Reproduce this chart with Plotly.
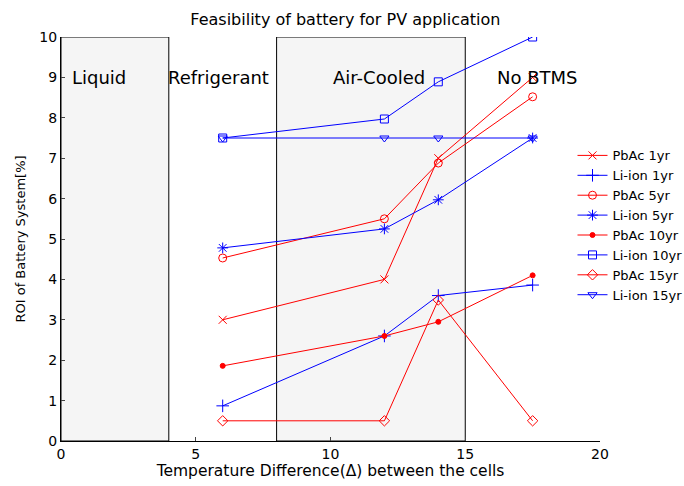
import plotly.graph_objects as go

# Temperature difference between cells (x) for each measured point
delta_t = [6, 12, 14, 17.5]

# ROI of battery system [%] per battery type and horizon
series_names = ["PbAc 1yr", "Li-ion 1yr", "PbAc 5yr", "Li-ion 5yr",
                "PbAc 10yr", "Li-ion 10yr", "PbAc 15yr", "Li-ion 15yr"]
pbac_1yr = [3.0, 4.0, 7.0, 9.0]
liion_1yr = [0.87, 2.6, 3.6, 3.86]
pbac_5yr = [4.53, 5.5, 6.88, 8.52]
liion_5yr = [4.78, 5.25, 5.97, 7.5]
pbac_10yr = [1.86, 2.6, 2.95, 4.1]
liion_10yr = [7.5, 7.97, 8.89, 10.0]
pbac_15yr = [0.5, 0.5, 3.49, 0.5]
liion_15yr = [7.5, 7.5, 7.5, 7.5]

# Cooling regimes along the x axis
region_labels = ["Liquid", "Refrigerant", "Air-Cooled", "No BTMS"]
region_label_x = [1.41, 5.86, 11.8, 17.68]
shaded_regions = [(0, 4), (8, 15)]

values = [pbac_1yr, liion_1yr, pbac_5yr, liion_5yr,
          pbac_10yr, liion_10yr, pbac_15yr, liion_15yr]
colors = ["#ff0000", "#0000ff"] * 4
symbols = ["x-thin-open", "cross-thin-open", "circle-open", "asterisk-open",
           "circle", "square-open", "diamond-open", "triangle-down-open"]
sizes = [8, 9, 8, 9, 5, 8, 8, 8]

FONT = "DejaVu Sans, Arial, sans-serif"

fig = go.Figure()

for x0, x1 in shaded_regions:
    fig.add_shape(type="rect", x0=x0, x1=x1, y0=0, y1=10, xref="x", yref="y",
                  fillcolor="#f5f5f5", line=dict(color="black", width=1),
                  layer="below")

for name, vals, col, sym, sz in zip(series_names, values, colors, symbols, sizes):
    fig.add_trace(go.Scatter(
        x=delta_t, y=vals, name=name, mode="lines+markers",
        line=dict(color=col, width=1),
        marker=dict(symbol=sym, size=sz, color=col,
                    line=dict(color=col, width=1)),
    ))

for lab, lx in zip(region_labels, region_label_x):
    fig.add_annotation(x=lx, y=9.0, xref="x", yref="y", text=lab,
                       showarrow=False, font=dict(size=18, color="black"))

fig.update_layout(
    width=684, height=486,
    margin=dict(l=61, r=84, t=37, b=45, autoexpand=False),
    paper_bgcolor="white", plot_bgcolor="white",
    font=dict(family=FONT, color="black"),
    title=dict(text="Feasibility of battery for PV application",
               x=0.505, xanchor="center", y=0.96, yanchor="middle",
               font=dict(size=16)),
    legend=dict(xref="container", yref="container", x=0.837, y=0.711,
                xanchor="left", yanchor="top",
                bgcolor="rgba(0,0,0,0)", font=dict(size=13),
                tracegroupgap=0),
    showlegend=True,
)
fig.update_xaxes(range=[0, 20], tickvals=[0, 5, 10, 15, 20], ticks="inside",
                 ticklen=4, showgrid=False, zeroline=False, showline=True,
                 linecolor="black", linewidth=1, tickfont=dict(size=14),
                 title=dict(text="Temperature Difference(\u0394) between the cells",
                            font=dict(size=15.5), standoff=2))
fig.update_yaxes(range=[0, 10], dtick=1, ticks="inside", ticklen=4,
                 showgrid=False, zeroline=False, showline=True,
                 linecolor="black", linewidth=1, tickfont=dict(size=14),
                 title=dict(text="ROI of Battery System[%]",
                            font=dict(size=13), standoff=10))

fig.write_html("out.html")
